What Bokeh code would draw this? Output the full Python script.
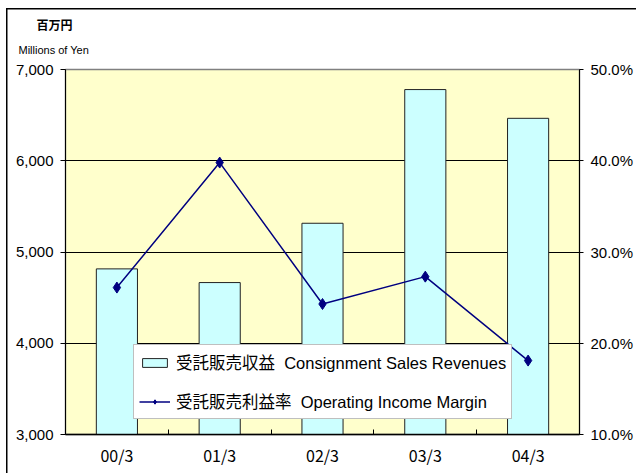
from bokeh.plotting import figure
from bokeh.models import (Range1d, LinearAxis, FixedTicker,
                          NumeralTickFormatter, PrintfTickFormatter, Legend, LegendItem,
                          Title, ColumnDataSource)
from bokeh.embed import file_html
from bokeh.resources import INLINE

categories = ["00/3", "01/3", "02/3", "03/3", "04/3"]
revenues = [4815, 4665, 5315, 6780, 6465]
margin = [26.1, 39.8, 24.3, 27.3, 18.1]
left_ticks = [3000, 4000, 5000, 6000, 7000]
right_ticks = [10, 20, 30, 40, 50]
legend_bar = "受託販売収益\u00a0\u00a0Consignment Sales Revenues"
legend_line = "受託販売利益率\u00a0\u00a0Operating Income Margin"
unit_jp = "百万円"
unit_en = "Millions of Yen"

FONT = "'Liberation Sans', 'Noto Sans CJK JP', sans-serif"
XFONT = "'Noto Sans CJK JP', sans-serif"

xs = [i + 0.5 for i in range(len(categories))]
src = ColumnDataSource(dict(x=xs, rev=revenues, mar=margin, cat=categories))

p = figure(width=636, height=473, output_backend="svg", toolbar_location=None,
           x_range=Range1d(0, len(categories)), y_range=Range1d(left_ticks[0], left_ticks[-1]),
           min_border_left=65, min_border_right=57, min_border_top=69, min_border_bottom=39,
           tools="")
p.extra_y_ranges = {"pct": Range1d(right_ticks[0], right_ticks[-1])}

# outer chart frame: left and top edges drawn as the page background behind the canvas
p.border_fill_alpha = 0
p.styles = {
    "background": ("linear-gradient(#000, #000) 6px 8px / 1.5px 100% no-repeat, "
                   "linear-gradient(#000, #000) 6px 8px / 100% 1.5px no-repeat, #fff"),
}

p.background_fill_color = "#FFFFCC"
p.outline_line_color = "#808080"
p.outline_line_width = 1.5

# grid
p.xgrid.grid_line_color = None
p.ygrid.ticker = FixedTicker(ticks=left_ticks)
p.ygrid.grid_line_color = "black"
p.ygrid.grid_line_width = 1

# left axis
ya = p.yaxis[0]
ya.ticker = FixedTicker(ticks=left_ticks)
ya.formatter = NumeralTickFormatter(format="0,0")
ya.axis_line_color = "black"
ya.major_tick_line_color = "black"
ya.major_tick_out = 5
ya.major_tick_in = 0
ya.minor_tick_line_color = None
ya.major_label_standoff = 7
ya.major_label_text_font = FONT
ya.major_label_text_font_size = "15px"
ya.major_label_text_color = "black"

# right axis
ra = LinearAxis(y_range_name="pct", ticker=FixedTicker(ticks=right_ticks),
                formatter=PrintfTickFormatter(format="%.1f%%"))
ra.axis_line_color = "black"
ra.major_tick_line_color = "black"
ra.major_tick_out = 4
ra.major_tick_in = 0
ra.minor_tick_line_color = None
ra.major_label_standoff = 7
ra.major_label_text_font = FONT
ra.major_label_text_font_size = "15px"
ra.major_label_text_color = "black"
p.add_layout(ra, "right")

# bottom axis: labels at centres, ticks at boundaries
xa = p.xaxis[0]
xa.ticker = FixedTicker(ticks=xs, minor_ticks=list(range(len(categories) + 1)))
xa.major_label_overrides = {x: c for x, c in zip(xs, categories)}
xa.major_tick_line_color = None
xa.minor_tick_line_color = "black"
xa.minor_tick_in = 5
xa.minor_tick_out = 0
xa.axis_line_color = "black"
xa.axis_line_width = 1.5
xa.major_label_standoff = 2
xa.major_label_text_font = XFONT
xa.major_label_text_font_size = "16px"
xa.major_label_text_color = "black"

bars = p.vbar(x="x", top="rev", bottom=left_ticks[0], width=0.4, source=src,
              fill_color="#CCFFFF", line_color="#222222", line_width=1)
ln = p.line(x="x", y="mar", source=src, y_range_name="pct",
            line_color="#000080", line_width=1.5)
mk = p.scatter(x="x", y="mar", source=src, y_range_name="pct", marker="diamond",
               size=11, fill_color="#000080", line_color="#000080")

legend = Legend(items=[LegendItem(label=legend_bar, renderers=[bars]),
                       LegendItem(label=legend_line, renderers=[ln, mk])],
                location=(68, 15), orientation="vertical")
legend.background_fill_color = "white"
legend.background_fill_alpha = 1
legend.border_line_color = "#808080"
legend.border_line_width = 1
legend.label_text_font = FONT
legend.label_text_font_size = "16.5px"
legend.label_text_color = "black"
legend.glyph_width = 31
legend.glyph_height = 11
legend.label_height = 24
legend.label_standoff = 6
legend.padding = 5
legend.spacing = 15
legend.margin = 0
p.add_layout(legend, "center")

# unit labels above the plot area
t_en = Title(text=unit_en, align="left", offset=-47, standoff=23, vertical_align="top",
             text_font=FONT, text_font_size="11px", text_font_style="normal",
             text_color="black")
t_jp = Title(text=unit_jp, align="left", offset=-29, standoff=0,
             text_font=FONT, text_font_size="12px", text_font_style="bold",
             text_color="black")
p.add_layout(t_en, "above")
p.add_layout(t_jp, "above")

open("out.html", "w").write(file_html(p, INLINE))
